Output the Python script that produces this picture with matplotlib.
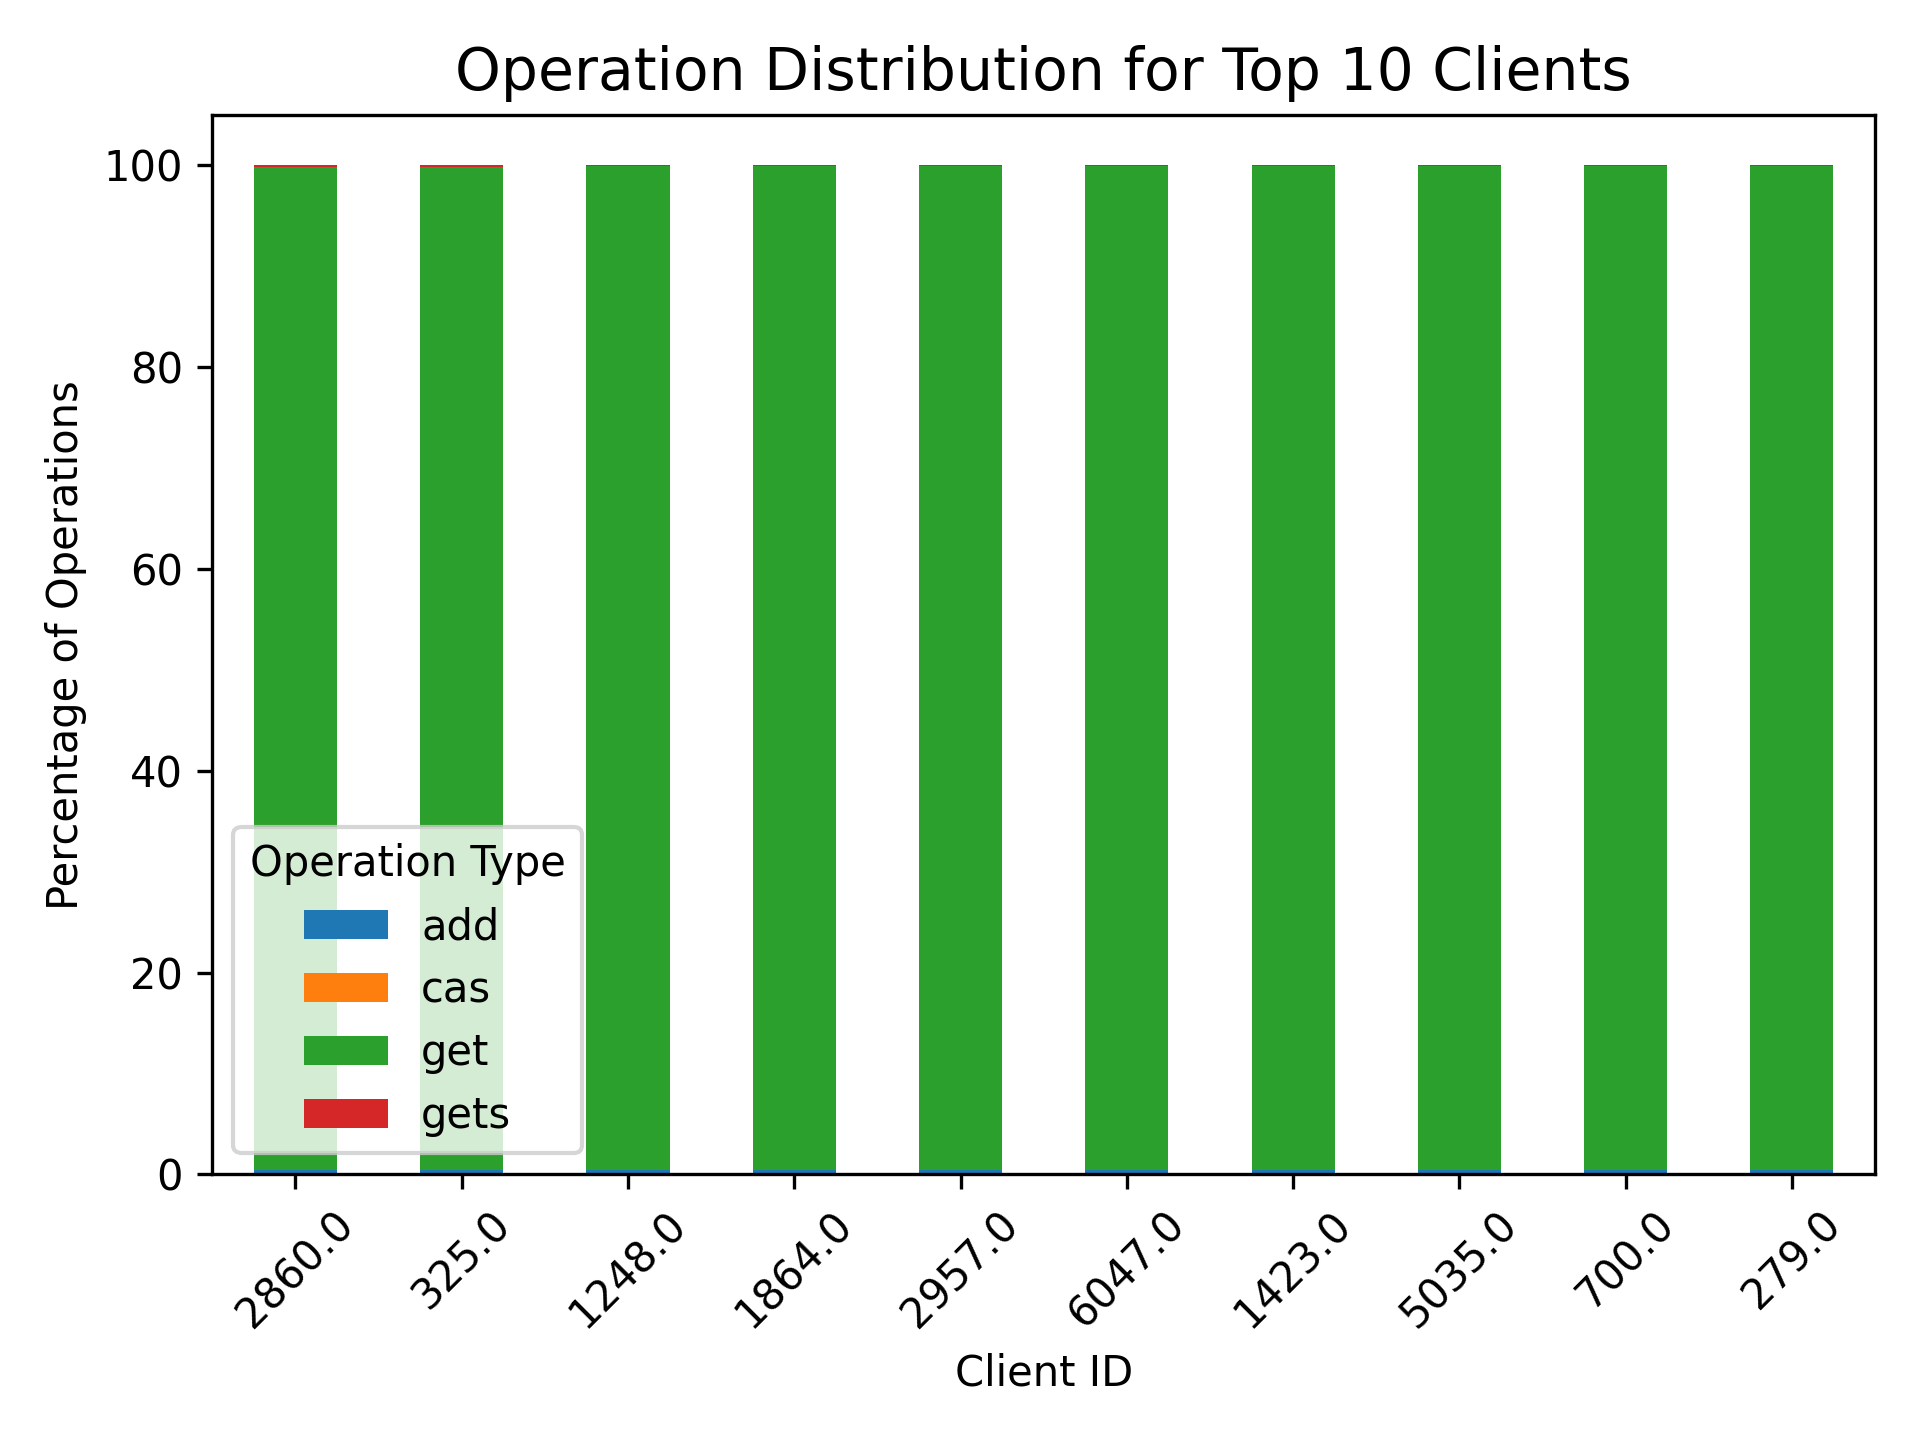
import matplotlib.pyplot as plt
import numpy as np

clients = ['2860.0', '325.0', '1248.0', '1864.0', '2957.0', '6047.0', '1423.0', '5035.0', '700.0', '279.0']
add = [0.4, 0.4, 0.4, 0.4, 0.4, 0.4, 0.4, 0.4, 0.4, 0.4]
cas = [0.02, 0.02, 0.02, 0.02, 0.02, 0.02, 0.02, 0.02, 0.02, 0.02]
gets = [0.12, 0.12, 0.1, 0.1, 0.1, 0.1, 0.1, 0.1, 0.1, 0.1]
get = [100 - a - c - g for a, c, g in zip(add, cas, gets)]

fig, ax = plt.subplots(figsize=(6.4, 4.8), dpi=300)
x = np.arange(len(clients))
bottom = np.zeros(len(clients))
for name, vals, col in [('add', add, '#1f77b4'), ('cas', cas, '#ff7f0e'),
                        ('get', get, '#2ca02c'), ('gets', gets, '#d62728')]:
    ax.bar(x, vals, 0.5, bottom=bottom, label=name, color=col)
    bottom += np.array(vals)

ax.set_xticks(x)
ax.set_xticklabels(clients, rotation=45)
ax.set_xlim(-0.5, len(clients) - 0.5)
ax.set_title('Operation Distribution for Top 10 Clients', fontsize=14)
ax.set_xlabel('Client ID')
ax.set_ylabel('Percentage of Operations')
ax.legend(title='Operation Type', loc='lower left')
fig.tight_layout()
fig.savefig('out.png')
